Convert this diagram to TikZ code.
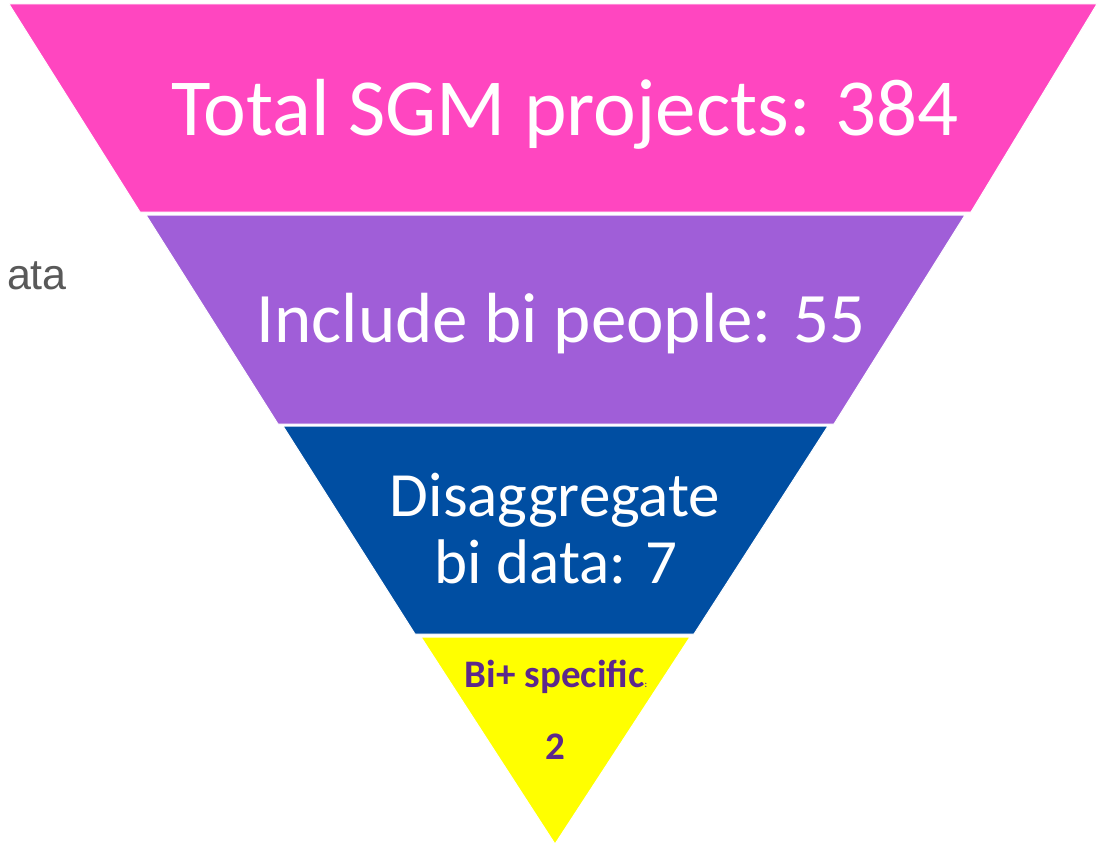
\documentclass[tikz,border=0pt]{standalone}
\usepackage{fontspec}
\setmainfont{Carlito}
\newfontfamily\arialfont{Liberation Sans}
\definecolor{fpink}{RGB}{255,70,192}
\definecolor{fpurple}{RGB}{160,94,216}
\definecolor{fblue}{RGB}{0,78,162}
\definecolor{fyellow}{RGB}{255,255,0}
\definecolor{ftext}{RGB}{92,40,140}
\definecolor{fgray}{RGB}{89,89,89}
\tikzset{
  band/.style={draw=white, line width=1pt},
  bigtext/.style={text=white, inner sep=0pt, anchor=base},
  smalltext/.style={inner sep=0pt, anchor=base, text=ftext, font=\fontsize{39}{46}\selectfont\bfseries},
}
\begin{document}
\begin{tikzpicture}[x=1pt,y=-1pt]
\useasboundingbox (0,0) rectangle (1105,845);
\fill[white] (0,0) rectangle (1105,845);
% bands
\path[band, fill=fpink] (9,4) -- (1097,4) -- (971,212) -- (140,212) -- cycle;
\path[band, fill=fpurple] (146,215) -- (965,215) -- (834,424) -- (278,424) -- cycle;
\path[band, fill=fblue] (283,426) -- (828,426) -- (694,634) -- (415,634) -- cycle;
\path[band, fill=fyellow] (421,637) -- (690,637) -- (555,844) -- cycle;
% texts
\node[bigtext, font=\fontsize{81}{97}\selectfont] (t1) at (565,136) {Total SGM projects: 384};
\node[bigtext, font=\fontsize{71}{85}\selectfont] (t2) at (561,342) {Include bi people: 55};
\node[bigtext, font=\fontsize{63}{76}\selectfont] (t3a) at (555,516) {Disaggregate};
\node[bigtext, font=\fontsize{63}{76}\selectfont] (t3b) at (556,583) {bi data: 7};
\node[smalltext] (t4a) at (556,687) {Bi+ specific\fontsize{9}{10}\selectfont:};
\node[smalltext] (t4b) at (555,759) {2};
\node[inner sep=0pt, anchor=base east, text=fgray, font=\arialfont\fontsize{43}{50}\selectfont] (side) at (67,289) {ata};
\end{tikzpicture}
\end{document}
